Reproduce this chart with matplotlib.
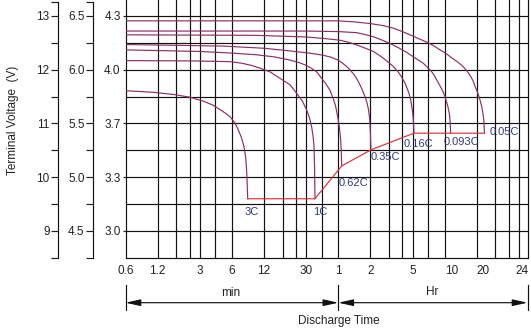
import numpy as np
import matplotlib
matplotlib.use('Agg')
import matplotlib.pyplot as plt
from matplotlib.ticker import NullLocator
from matplotlib.lines import Line2D
import matplotlib.transforms as mtransforms

plt.rcParams['font.family'] = ['Liberation Sans', 'DejaVu Sans']

# ---------------- data (time in minutes, voltage on 12 V scale) ----------------
rates = ['3C', '1C', '0.62C', '0.35C', '0.16C', '0.093C', '0.05C']

t_3C = [0.6, 1.1, 1.7, 2.4, 3.2, 4.0, 4.8, 5.4, 5.8, 6.4, 6.9, 7.4, 7.8, 8.1, 8.25, 8.35, 8.45]
v_3C = [11.61, 11.58, 11.54, 11.49, 11.42, 11.34, 11.24, 11.17, 11.12, 11.01, 10.88, 10.73,
        10.57, 10.35, 10.13, 9.90, 9.60]

t_1C = [0.6, 2.5, 4.5, 5.8, 7.5, 9.2, 11.0, 13.7, 17.0, 21.1, 24.4, 27.5, 30.3, 32.2, 33.7,
        34.8, 35.5, 35.9, 36.2]
v_1C = [12.17, 12.165, 12.155, 12.15, 12.12, 12.08, 12.03, 11.96, 11.84, 11.72, 11.56, 11.42,
        11.25, 11.10, 10.94, 10.75, 10.57, 10.20, 9.60]

t_062C = [0.6, 3, 6, 10, 15, 21.1, 26, 30, 34, 37.6, 40.4, 45, 50.1, 54, 56.5, 58, 59.8,
          61.3, 62.4, 63.2, 63.9, 64.6]
v_062C = [12.37, 12.34, 12.31, 12.28, 12.24, 12.18, 12.13, 12.08, 12.02, 11.96, 11.88, 11.76,
          11.62, 11.45, 11.33, 11.22, 11.08, 10.94, 10.80, 10.69, 10.50, 10.21]

t_035C = [0.6, 5, 12, 21.1, 32, 43.4, 52, 59.6, 66, 71.9, 78, 85, 92, 98, 103, 108, 112, 115,
          117.5, 119, 120.3, 121.5]
v_035C = [12.47, 12.44, 12.40, 12.35, 12.31, 12.27, 12.23, 12.18, 12.12, 12.06, 11.99, 11.90,
          11.79, 11.68, 11.58, 11.48, 11.37, 11.27, 11.14, 11.00, 10.80, 10.51]

t_016C = [0.6, 10, 30, 45, 62.2, 75, 90, 108, 127.9, 145, 160, 180, 197.3, 215, 230, 243,
          254.2, 265, 275, 282, 287.2, 292, 296, 300, 303, 305.5, 307.5, 308.6]
v_016C = [12.65, 12.64, 12.61, 12.58, 12.55, 12.51, 12.46, 12.40, 12.34, 12.27, 12.21, 12.13,
          12.06, 11.98, 11.90, 11.82, 11.75, 11.66, 11.58, 11.50, 11.44, 11.36, 11.28, 11.20,
          11.10, 11.00, 10.90, 10.82]

t_0093C = [0.6, 30, 60, 89.4, 110, 130, 155, 183.7, 220, 260, 310, 377.7, 415, 450, 480,
           504.8, 535, 560, 585, 604, 625, 640, 653, 663, 670, 675, 680, 683]
v_0093C = [12.72, 12.72, 12.71, 12.69, 12.65, 12.61, 12.55, 12.49, 12.41, 12.33, 12.23, 12.12,
           12.04, 11.97, 11.89, 11.81, 11.72, 11.65, 11.57, 11.50, 11.40, 11.33, 11.25, 11.19,
           11.10, 11.00, 10.90, 10.82]

t_005C = [0.6, 59.6, 85, 119.2, 160, 200, 240, 283.3, 340, 400, 470, 542, 620, 700, 800, 892,
          970, 1050, 1110, 1156, 1210, 1260, 1300, 1337, 1370, 1400, 1420]
v_005C = [12.91, 12.91, 12.89, 12.86, 12.82, 12.77, 12.71, 12.65, 12.58, 12.52, 12.45, 12.37,
          12.30, 12.22, 12.14, 12.06, 11.98, 11.88, 11.79, 11.69, 11.60, 11.50, 11.41, 11.31,
          11.20, 11.05, 10.82]

curves_t = [t_3C, t_1C, t_062C, t_035C, t_016C, t_0093C, t_005C]
curves_v = [v_3C, v_1C, v_062C, v_035C, v_016C, v_0093C, v_005C]

# final (cut-off) voltage line
t_cut = [8.45, 36.2, 64.6, 121.5, 308.6, 1420]
v_cut = [9.60, 9.60, 10.21, 10.51, 10.82, 10.82]

# axis labels
v12_ticks = [9, 10, 11, 12, 13]
v12_labels = ['9', '10', '11', '12', '13']
v6_labels = ['4.5', '5.0', '5.5', '6.0', '6.5']
v4_labels = ['3.0', '3.3', '3.7', '4.0', '4.3']
time_labels = ['0.6', '1.2', '3', '6', '12', '30', '1', '2', '5', '10', '20', '24']
time_label_pos = [0.6, 1.2, 3, 6, 12, 30, 60, 120, 300, 700, 1380, 3180]  # as printed

# ---------------- layout ----------------
W, H = 531, 328
fig = plt.figure(figsize=(W / 100, H / 100), dpi=100)
fx = lambda px: px / W
fy = lambda py: 1 - py / H

PPV = 53.75  # px per volt
L, R = 125.5, 527.5
T = 0
B = 16 + 4.5 * PPV
YLIM = (8.5, 13 + 16 / PPV)
ax = fig.add_axes([fx(L), fy(B), (R - L) / W, (B - T) / H])
ax.set_xscale('log')
ax.set_xlim(0.6, 3600)
ax.set_ylim(*YLIM)

grid_c = '#111111'
txt_c = '#222222'
glw = 0.85
# log-paper grid
grid_units = [1, 2, 3, 4, 5, 7, 10, 20, 30, 40, 50, 70, 100, 200, 300, 400, 500, 700,
              1000, 2000, 3000, 4000, 5000, 6000]
for g in grid_units[1:]:
    ax.axvline(g * 0.6, color=grid_c, lw=glw, zorder=1, clip_on=False)
for v in np.arange(9, 13.01, 0.5):
    ax.axhline(v, color=grid_c, lw=glw, zorder=1)

for s in ['top', 'right']:
    ax.spines[s].set_visible(False)
for s in ['left', 'bottom']:
    ax.spines[s].set_color(grid_c)
    ax.spines[s].set_linewidth(glw)

ax.xaxis.set_minor_locator(NullLocator())
ax.set_xticks(time_label_pos)
ax.set_xticklabels(time_labels)
ax.tick_params(axis='x', length=0, pad=5, labelsize=8.5, colors=txt_c)
ax.set_yticks(v12_ticks)
ax.set_yticklabels(v4_labels)
ax.yaxis.set_minor_locator(NullLocator())
ax.tick_params(axis='y', length=2.5, width=glw, pad=1, labelsize=8.5, colors=txt_c)

top_v = 13.26


def side_axis(px, labels):
    a = fig.add_axes(ax.get_position().bounds)
    a.patch.set_visible(False)
    for s in ['top', 'right', 'bottom']:
        a.spines[s].set_visible(False)
    a.set_ylim(*YLIM)
    a.spines['left'].set_position(('axes', (px - L) / (R - L)))
    a.spines['left'].set_bounds(8.5, top_v)
    a.spines['left'].set_color(grid_c)
    a.spines['left'].set_linewidth(glw)
    a.set_xticks([])
    a.set_yticks(v12_ticks)
    a.set_yticklabels(labels)
    a.set_yticks([8.5, 9.5, 10.5, 11.5, 12.5, top_v], minor=True)
    a.tick_params(axis='y', which='both', length=5, width=glw, pad=1, labelsize=8.5,
                  colors=txt_c)
    return a


side_axis(93, v6_labels)
side_axis(58, v12_labels)

# curves
curve_c = '#8c2f6a'
for t, v in zip(curves_t, curves_v):
    ax.plot(t, v, color=curve_c, lw=0.85, zorder=3)
ax.plot(t_cut, v_cut, color='#d8343a', lw=0.85, zorder=4)

# rate labels (offsets in px from curve end)
label_off = [(4, -13.7), (5, -13.7), (11.6, -16.7), (15, -6.7), (4.3, -11), (11, -8.4), (20, 1.6)]
for name, t, v, off in zip(rates, curves_t, curves_v, label_off):
    ax.annotate(name, xy=(t[-1], v[-1]), xytext=(off[0] * 0.72, off[1] * 0.72),
                textcoords='offset points', ha='center', va='center',
                fontsize=8, color='#2d3a7c', zorder=5)

# y label
fig.text(fx(13.5), fy(120), 'Terminal Voltage  (V)', rotation=90, ha='center', va='center',
         fontsize=8.5, color=txt_c)

# time range dimension arrows
bt = mtransforms.blended_transform_factory(ax.transData, fig.transFigure)
for xb in [0.6, 60, 3600]:
    fig.add_artist(Line2D([xb, xb], [fy(285), fy(310)], transform=bt, color=grid_c, lw=glw))
for x0, x1 in [(0.6, 60), (60, 3600)]:
    ax.annotate('', xy=(x1, fy(302.7)), xytext=(x0, fy(302.7)),
                xycoords=bt, textcoords=bt,
                arrowprops=dict(arrowstyle='<|-|>,head_length=0.9,head_width=0.2',
                                color=grid_c, lw=glw, shrinkA=0, shrinkB=0),
                annotation_clip=False)
fig.text(fx(230.7), fy(293), 'min', ha='center', va='center', fontsize=8.5, color=txt_c)
fig.text(fx(431.7), fy(292), 'Hr', ha='center', va='center', fontsize=8.5, color=txt_c)
fig.text(fx(339), fy(321), 'Discharge Time', ha='center', va='center', fontsize=8.5,
         color=txt_c)

fig.savefig('out.png', dpi=100)
